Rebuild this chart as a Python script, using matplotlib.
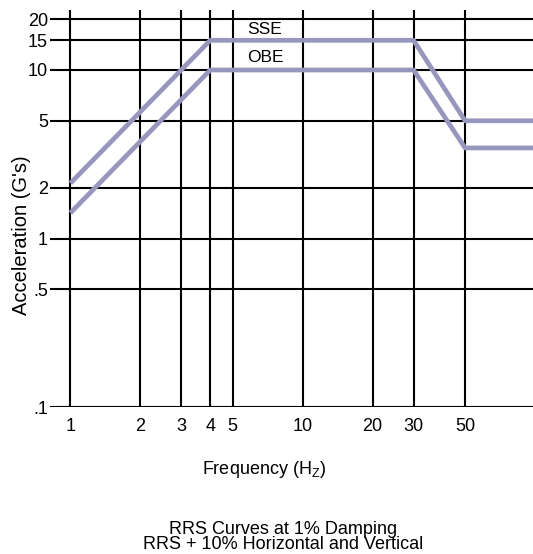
import matplotlib
matplotlib.use("Agg")
import matplotlib.pyplot as plt

plt.rcParams['font.family'] = ['Liberation Sans', 'DejaVu Sans']

# response spectrum corner points (Hz, G's)
freq = [1, 4, 30, 50, 100]
sse = [2.13, 15, 15, 5.0, 5.0]
obe = [1.42, 10, 10, 3.45, 3.45]

x_ticks = [1, 2, 3, 4, 5, 10, 20, 30, 50]
x_labels = ['1', '2', '3', '4', '5', '10', '20', '30', '50']
y_ticks = [0.1, 0.5, 1, 2, 5, 10, 15, 20]
y_labels = ['.1', '.5', '1', '2', '5', '10', '15', '20']

line_color = '#9797bd'

fig = plt.figure(figsize=(5.33, 5.54), dpi=100)
ax = fig.add_axes([0.0938, 0.265, 0.9062, 0.717])

ax.set_xscale('log')
ax.set_yscale('log')
ax.set_xlim(0.817, 98)
ax.set_ylim(0.1, 22.7)

ax.plot(freq, sse, color=line_color, lw=3.4, solid_capstyle='butt', zorder=3)
ax.plot(freq, obe, color=line_color, lw=3.4, solid_capstyle='butt', zorder=3)

ax.set_xticks(x_ticks)
ax.set_xticklabels(x_labels)
ax.set_yticks(y_ticks)
ax.set_yticklabels(y_labels)
ax.minorticks_off()
ax.tick_params(axis='both', length=0, labelsize=13)
ax.tick_params(axis='x', pad=8)
ax.tick_params(axis='y', pad=1.5)

ax.grid(True, color='black', lw=1.5, zorder=1)
ax.set_axisbelow(True)
for s in ax.spines.values():
    s.set_visible(False)

ax.text(5.75, 17.3, 'SSE', fontsize=12.5, va='center', ha='left')
ax.text(5.75, 11.9, 'OBE', fontsize=12.5, va='center', ha='left')

fig.text(22 / 533, 1 - 235 / 554, "Acceleration (G's)", rotation=90,
         ha='center', va='center', fontsize=14.5)
fig.text(264 / 533, 1 - 470 / 554, r'Frequency (H$_{\mathregular{Z}}$)',
         ha='center', va='center', fontsize=13)
fig.text(283 / 533, 1 - 537 / 554,
         'RRS Curves at 1% Damping\nRRS + 10% Horizontal and Vertical',
         ha='center', va='center', fontsize=13, linespacing=0.85)

fig.savefig('out.png', dpi=100)
